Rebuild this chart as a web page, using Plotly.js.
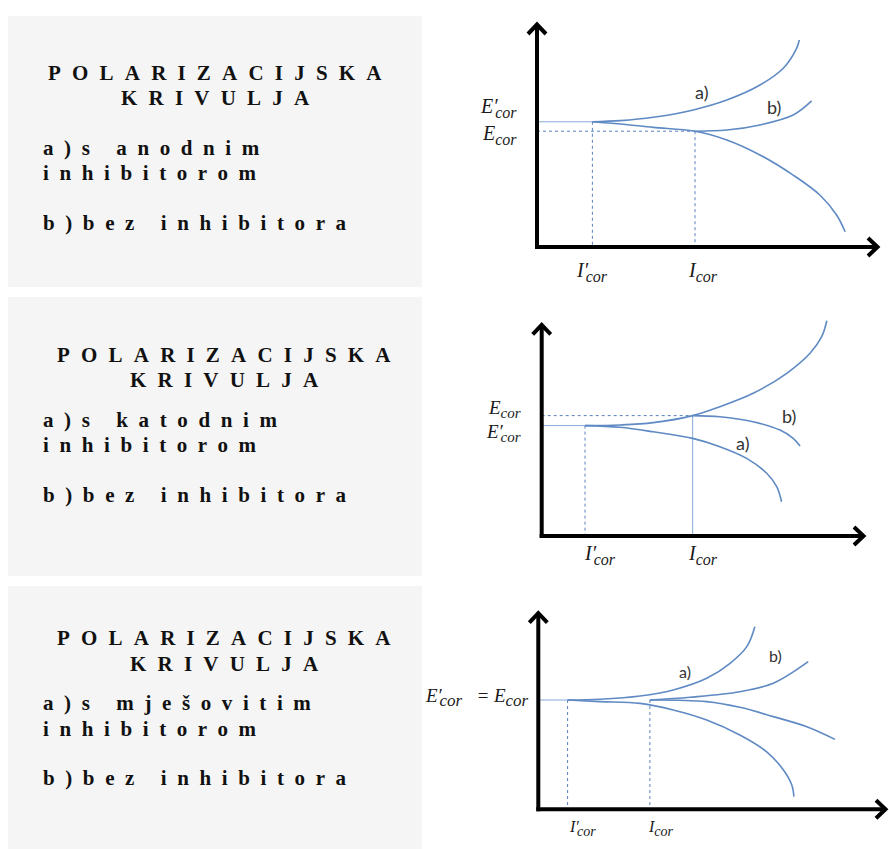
<!DOCTYPE html>
<html>
<head>
<meta charset="utf-8">
<script src="https://cdn.plot.ly/plotly-3.0.1.min.js"></script>
<style>
  html, body { margin: 0; padding: 0; background: #fff; }
  #plot { width: 889px; height: 849px; }
</style>
</head>
<body>
<div id="plot"></div>
<script>
// ---- text panels ----
const titleWords = ['POLARIZACIJSKA', 'KRIVULJA'];
const inhibitorKinds = ['a)s anodnim', 'a)s katodnim', 'a)s mješovitim'];
const inhibitorWord = 'inhibitorom';
const noInhibitor = 'b)bez inhibitora';

// ---- chart 1: anodic inhibitor (axis tips are at 10) ----
const c1Current = [1.62, 4.62];     // I'cor, Icor
const c1Potential = [5.59, 5.17];   // E'cor, Ecor
const c1AnodicA_x = [1.62, 2.43, 3.40, 4.57, 5.55, 6.52, 7.20, 7.59, 7.67];
const c1AnodicA_y = [5.59, 5.64, 5.79, 6.12, 6.56, 7.23, 7.98, 8.87, 9.24];
const c1AnodicB_x = [4.62, 5.55, 6.52, 7.49, 8.03];
const c1AnodicB_y = [5.17, 5.22, 5.45, 5.89, 6.52];
const c1Cathodic_x = [1.62, 2.43, 3.40, 4.62, 5.55, 6.52, 7.49, 8.27, 8.76, 9.01];
const c1Cathodic_y = [5.59, 5.49, 5.34, 5.17, 4.78, 4.11, 3.21, 2.32, 1.43, 0.68];

// ---- chart 2: cathodic inhibitor ----
const c2Current = [1.34, 4.67];     // I'cor, Icor
const c2Potential = [5.19, 5.66];   // E'cor, Ecor
const c2Anodic_x = [1.34, 2.42, 3.45, 4.67, 5.51, 6.54, 7.58, 8.30, 8.66, 8.82];
const c2Anodic_y = [5.19, 5.22, 5.33, 5.66, 6.08, 6.71, 7.65, 8.59, 9.37, 10.12];
const c2CathodicB_x = [4.67, 5.51, 6.54, 7.37, 7.78, 7.99];
const c2CathodicB_y = [5.66, 5.61, 5.37, 4.98, 4.59, 4.23];
const c2CathodicA_x = [1.34, 2.42, 3.45, 4.67, 5.51, 6.34, 6.96, 7.27, 7.42];
const c2CathodicA_y = [5.19, 5.11, 4.90, 4.59, 4.20, 3.65, 2.95, 2.32, 1.61];

// ---- chart 3: mixed inhibitor ----
const c3Current = [0.84, 3.20];     // I'cor, Icor
const c3Potential = [5.53];         // E'cor = Ecor
const c3AnodicA_x = [0.84, 1.77, 2.92, 3.87, 4.83, 5.50, 5.98, 6.21];
const c3AnodicA_y = [5.53, 5.57, 5.73, 6.04, 6.63, 7.39, 8.23, 9.24];
const c3AnodicB_x = [3.20, 4.35, 5.78, 6.74, 7.74];
const c3AnodicB_y = [5.53, 5.67, 5.95, 6.38, 7.47];
const c3CathodicB_x = [3.20, 4.83, 5.78, 6.74, 7.70, 8.51];
const c3CathodicB_y = [5.53, 5.45, 5.16, 4.69, 4.18, 3.54];
const c3CathodicA_x = [0.84, 1.77, 2.92, 3.87, 4.83, 5.78, 6.55, 7.03, 7.27, 7.33];
const c3CathodicA_y = [5.53, 5.45, 5.36, 5.03, 4.52, 3.76, 2.91, 1.99, 1.23, 0.64];

// ---- layout geometry (pixels) ----
const W = 889, H = 849;
const frames = [
  {ox: 537, oy: 247, tx: 879, ty: 23, L: 430, R: 889, T: 0, B: 290},
  {ox: 541.7, oy: 536, tx: 865, ty: 323.3, L: 430, R: 889, T: 290, B: 580},
  {ox: 538.3, oy: 809.3, tx: 887, ty: 611.7, L: 430, R: 889, T: 580, B: 849}
];
const boxes = [[8, 16, 422, 287], [8, 297, 422, 576], [8, 586, 422, 849]];
const boxCenterX = [215, 224, 224];
const baselines = [[80, 105, 155, 180, 230], [361.7, 387.3, 426.7, 451.7, 501.7], [645, 670.7, 710, 736, 785]];

const curveColor = '#5f8ac4';
const guideColor = '#86a8d8';
const dotColor = '#5a80bf';
const serif = "'Liberation Serif', 'Times New Roman', serif";
const sans = "Lato, 'Liberation Sans', sans-serif";

const traces = [];
const annotations = [];
const shapes = [];
const layout = {
  width: W, height: H,
  margin: {l: 0, r: 0, t: 0, b: 0},
  paper_bgcolor: '#fff', plot_bgcolor: 'rgba(0,0,0,0)',
  showlegend: false
};

frames.forEach((f, i) => {
  const n = i === 0 ? '' : String(i + 1);
  const sx = (f.tx - f.ox) / 10, sy = (f.oy - f.ty) / 10;
  layout['xaxis' + n] = {
    domain: [f.L / W, f.R / W], range: [(f.L - f.ox) / sx, (f.R - f.ox) / sx],
    visible: false, fixedrange: true, anchor: 'y' + n
  };
  layout['yaxis' + n] = {
    domain: [1 - f.B / H, 1 - f.T / H], range: [(f.oy - f.B) / sy, (f.oy - f.T) / sy],
    visible: false, fixedrange: true, anchor: 'x' + n
  };
  // axis lines with open chevron heads
  const axLine = {width: 4, color: '#000'};
  shapes.push({type: 'line', xref: 'x' + n, yref: 'y' + n, layer: 'above',
    x0: -2 / sx, x1: 10 - 2 / sx, y0: 0, y1: 0, line: axLine});
  shapes.push({type: 'line', xref: 'x' + n, yref: 'y' + n, layer: 'above',
    x0: 0, x1: 0, y0: -2 / sy, y1: 10 - 2 / sy, line: axLine});
  shapes.push({type: 'path', xref: 'x' + n, yref: 'y' + n, layer: 'above',
    xsizemode: 'pixel', ysizemode: 'pixel', xanchor: 10, yanchor: 0,
    path: 'M-11,9 L-1.5,0 L-11,-9', line: axLine});
  shapes.push({type: 'path', xref: 'x' + n, yref: 'y' + n, layer: 'above',
    xsizemode: 'pixel', ysizemode: 'pixel', xanchor: 0, yanchor: 10,
    path: 'M-9,-11 L0,-1.5 L9,-11', line: axLine});
});

function curve(xs, ys, n) {
  traces.push({x: xs, y: ys, xaxis: 'x' + n, yaxis: 'y' + n, type: 'scatter', mode: 'lines',
    line: {color: curveColor, width: 1.6, shape: 'spline', smoothing: 1}, hoverinfo: 'skip'});
}
function guide(xs, ys, n, dotted) {
  traces.push({x: xs, y: ys, xaxis: 'x' + n, yaxis: 'y' + n, type: 'scatter', mode: 'lines',
    line: {color: dotted ? dotColor : guideColor, width: 1, dash: dotted ? 'dot' : 'solid'}, hoverinfo: 'skip'});
}

// math symbol: letter, optional prime pulled in over the subscript, subscript "cor"
// (s: letter size, t: subscript size, d: subscript drop in px)
function sym(letter, primed, s, t, d) {
  let txt = letter;
  if (primed) txt += '<span style="font-size:' + s + 'px;letter-spacing:-' + (0.12 * s).toFixed(1) + 'px">′</span>';
  return txt + '<span style="font-size:' + t + 'px;baseline-shift:-' + d + 'px">cor</span>';
}
// offset between the text box centre and the capital letter's centre
function boxDelta(s, t, d) {
  return (Math.max(0.216 * s, d + 0.216 * t) - 0.891 * s) / 2 + 0.331 * s;
}
// yE: where the capital letter's centre sits, px above the anchor
function mathLabel(n, x, y, text, anchor, xshift, yE, s, t, d) {
  annotations.push({xref: 'x' + n, yref: 'y' + n, x: x, y: y, text: text, showarrow: false,
    xanchor: anchor, yanchor: 'middle', xshift: xshift, yshift: yE - boxDelta(s, t, d), borderpad: 0,
    font: {family: serif, size: s, color: '#1a1a1a', style: 'italic'}});
}
function tag(text, x, y, n, size) {
  annotations.push({xref: 'x' + n, yref: 'y' + n, x: x, y: y, text: text, showarrow: false,
    xanchor: 'center', yanchor: 'middle', font: {family: sans, size: size, color: '#333'}});
}

// chart 1
guide([0, c1Current[0]], [c1Potential[0], c1Potential[0]], '', false);
guide([0, c1Current[1]], [c1Potential[1], c1Potential[1]], '', true);
guide([c1Current[0], c1Current[0]], [c1Potential[0], 0], '', true);
guide([c1Current[1], c1Current[1]], [c1Potential[1], 0], '', true);
curve(c1AnodicA_x, c1AnodicA_y, '');
curve(c1AnodicB_x, c1AnodicB_y, '');
curve(c1Cathodic_x, c1Cathodic_y, '');
mathLabel('', 0, c1Potential[0], sym('E', true, 20, 16, 5), 'right', -19, 15.7, 20, 16, 5);
mathLabel('', 0, c1Potential[1], sym('E', false, 20, 16, 5), 'right', -19, -1.8, 20, 16, 5);
mathLabel('', c1Current[0], 0, sym('I', true, 20, 16, 5), 'left', -17, -23, 20, 16, 5);
mathLabel('', c1Current[1], 0, sym('I', false, 20, 16, 5), 'left', -8, -23, 20, 16, 5);
tag('a)', 4.81, 6.94, '', 18);
tag('b)', 6.93, 6.23, '', 18);

// chart 2
guide([0, c2Current[1]], [c2Potential[1], c2Potential[1]], '2', true);
guide([0, c2Current[0]], [c2Potential[0], c2Potential[0]], '2', false);
guide([c2Current[0], c2Current[0]], [c2Potential[0], 0], '2', true);
guide([c2Current[1], c2Current[1]], [c2Potential[1], 0], '2', false);
curve(c2Anodic_x, c2Anodic_y, '2');
curve(c2CathodicB_x, c2CathodicB_y, '2');
curve(c2CathodicA_x, c2CathodicA_y, '2');
mathLabel('2', 0, c2Potential[1], sym('E', false, 19, 15, 4), 'right', -20, 7.6, 19, 15, 4);
mathLabel('2', 0, c2Potential[0], sym('E', true, 19, 15, 4), 'right', -20, -6.4, 19, 15, 4);
mathLabel('2', c2Current[0], 0, sym('I', true, 20, 16, 5), 'left', -1.7, -17.3, 20, 16, 5);
mathLabel('2', c2Current[1], 0, sym('I', false, 20, 16, 5), 'left', -6, -17.3, 20, 16, 5);
tag('b)', 7.65, 5.62, '2', 18);
tag('a)', 6.21, 4.37, '2', 18);

// chart 3
guide([0, c3Current[0]], [c3Potential[0], c3Potential[0]], '3', false);
guide([c3Current[0], c3Current[0]], [c3Potential[0], 0], '3', true);
guide([c3Current[1], c3Current[1]], [c3Potential[0], 0], '3', true);
curve(c3AnodicA_x, c3AnodicA_y, '3');
curve(c3AnodicB_x, c3AnodicB_y, '3');
curve(c3CathodicB_x, c3CathodicB_y, '3');
curve(c3CathodicA_x, c3CathodicA_y, '3');
mathLabel('3', 0, c3Potential[0],
  sym('E', true, 19, 17, 4) + '\u00a0\u00a0\u00a0=\u00a0' + sym('E', false, 19, 17, 4),
  'right', -8, 4.2, 19, 17, 4);
mathLabel('3', c3Current[0], 0, sym('I', true, 16, 14, 4), 'left', 0.6, -17.4, 16, 14, 4);
mathLabel('3', c3Current[1], 0, sym('I', false, 16, 14, 4), 'left', -3.3, -17.4, 16, 14, 4);
tag('a)', 4.21, 6.96, '3', 16);
tag('b)', 6.81, 7.78, '3', 16);

// text panels
function spaced(s, ls) {
  return '<span style="font-size:21px;letter-spacing:' + ls + 'px">' + s + '</span>';
}
boxes.forEach((b, i) => {
  shapes.push({type: 'rect', xref: 'paper', yref: 'paper', layer: 'below',
    x0: b[0] / W, x1: b[2] / W, y0: 1 - b[3] / H, y1: 1 - b[1] / H,
    fillcolor: '#f5f5f5', line: {width: 0}});
  const lines = [titleWords[0], titleWords[1], inhibitorKinds[i], inhibitorWord, noInhibitor];
  lines.forEach((t, j) => {
    const centered = j < 2;
    annotations.push({
      xref: 'paper', yref: 'paper',
      x: centered ? boxCenterX[i] / W : 41 / W,
      y: 1 - (baselines[i][j] - 7.1) / H,
      xanchor: centered ? 'center' : 'left', yanchor: 'middle',
      xshift: centered ? 5.5 : 0,
      text: spaced(t, centered ? 11.2 : 10.6), showarrow: false,
      font: {family: serif, size: 21, color: '#111', weight: 'bold'}
    });
  });
});

layout.annotations = annotations;
layout.shapes = shapes;

Plotly.newPlot('plot', traces, layout, {displayModeBar: false, staticPlot: true});
</script>
</body>
</html>
